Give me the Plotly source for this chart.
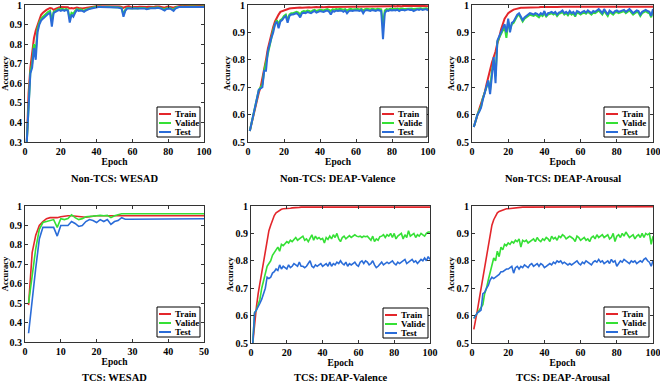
import plotly.graph_objects as go

# ---------------- data ----------------
titles = ["Non-TCS: WESAD", "Non-TCS: DEAP-Valence", "Non-TCS: DEAP-Arousal",
          "TCS: WESAD", "TCS: DEAP-Valence", "TCS: DEAP-Arousal"]
series_names = ["Train", "Valide", "Test"]

epochs100 = list(range(1, 101))
epochs50 = list(range(1, 51))

tr1 = [0.30, 0.55, 0.68, 0.76, 0.83, 0.87, 0.90, 0.93, 0.95, 0.96,
       0.97, 0.975, 0.98, 0.985, 0.983, 0.975, 0.98, 0.985, 0.988, 0.99,
       0.99, 0.99, 0.99, 0.988, 0.982, 0.985, 0.982, 0.984, 0.987, 0.985,
       0.983, 0.982, 0.984, 0.986, 0.988, 0.987, 0.99, 0.992, 0.993, 0.994,
       0.994, 0.995, 0.994, 0.995, 0.994, 0.993, 0.994, 0.995, 0.994, 0.993,
       0.994, 0.993, 0.992, 0.99, 0.985, 0.99, 0.992, 0.993, 0.99, 0.988,
       0.99, 0.989, 0.99, 0.991, 0.99, 0.99, 0.989, 0.99, 0.991, 0.99,
       0.991, 0.99, 0.992, 0.993, 0.992, 0.99, 0.988, 0.986, 0.99, 0.992,
       0.99, 0.988, 0.986, 0.99, 0.993, 0.994, 0.995, 0.995, 0.995, 0.995,
       0.995, 0.995, 0.996, 0.995, 0.995, 0.996, 0.995, 0.995, 0.996, 0.995]
va1 = [0.30, 0.52, 0.66, 0.70, 0.80, 0.76, 0.88, 0.91, 0.93, 0.94,
       0.95, 0.96, 0.965, 0.97, 0.92, 0.965, 0.97, 0.975, 0.98, 0.978,
       0.98, 0.975, 0.98, 0.975, 0.93, 0.96, 0.955, 0.97, 0.98, 0.975,
       0.978, 0.975, 0.97, 0.978, 0.98, 0.982, 0.985, 0.988, 0.99, 0.992,
       0.99, 0.992, 0.99, 0.991, 0.99, 0.99, 0.991, 0.99, 0.99, 0.99,
       0.99, 0.988, 0.987, 0.985, 0.95, 0.975, 0.985, 0.985, 0.983, 0.982,
       0.984, 0.983, 0.982, 0.985, 0.984, 0.983, 0.985, 0.98, 0.984, 0.985,
       0.986, 0.985, 0.986, 0.988, 0.986, 0.985, 0.98, 0.978, 0.984, 0.986,
       0.985, 0.98, 0.978, 0.985, 0.99, 0.99, 0.992, 0.992, 0.991, 0.992,
       0.992, 0.991, 0.992, 0.992, 0.991, 0.992, 0.992, 0.991, 0.992, 0.992]
te1 = [0.30, 0.50, 0.65, 0.68, 0.78, 0.72, 0.86, 0.90, 0.92, 0.93,
       0.94, 0.95, 0.955, 0.96, 0.89, 0.96, 0.965, 0.97, 0.975, 0.97,
       0.975, 0.97, 0.975, 0.97, 0.91, 0.95, 0.94, 0.96, 0.975, 0.97,
       0.972, 0.97, 0.965, 0.972, 0.978, 0.98, 0.982, 0.985, 0.988, 0.99,
       0.99, 0.99, 0.99, 0.99, 0.99, 0.99, 0.99, 0.99, 0.99, 0.99,
       0.99, 0.987, 0.985, 0.982, 0.94, 0.97, 0.982, 0.982, 0.98, 0.98,
       0.982, 0.98, 0.98, 0.982, 0.982, 0.98, 0.982, 0.978, 0.982, 0.983,
       0.984, 0.983, 0.984, 0.986, 0.984, 0.982, 0.976, 0.972, 0.98, 0.983,
       0.982, 0.976, 0.97, 0.982, 0.988, 0.99, 0.99, 0.99, 0.99, 0.99,
       0.99, 0.99, 0.99, 0.99, 0.99, 0.99, 0.99, 0.99, 0.99, 0.99]

tr2 = [0.54, 0.57, 0.60, 0.62, 0.65, 0.68, 0.70, 0.73, 0.76, 0.80,
       0.84, 0.87, 0.89, 0.92, 0.94, 0.955, 0.965, 0.975, 0.978, 0.98,
       0.983, 0.985, 0.987, 0.988, 0.989, 0.99, 0.99, 0.99, 0.991, 0.99,
       0.991, 0.991, 0.992, 0.992, 0.991, 0.992, 0.992, 0.993, 0.992, 0.993,
       0.993, 0.992, 0.993, 0.993, 0.994, 0.993, 0.993, 0.994, 0.993, 0.994,
       0.994, 0.993, 0.994, 0.994, 0.993, 0.994, 0.994, 0.995, 0.994, 0.994,
       0.995, 0.994, 0.994, 0.995, 0.994, 0.995, 0.995, 0.994, 0.995, 0.995,
       0.995, 0.994, 0.995, 0.995, 0.995, 0.994, 0.995, 0.995, 0.995, 0.996,
       0.995, 0.995, 0.996, 0.995, 0.995, 0.996, 0.995, 0.996, 0.996, 0.995,
       0.996, 0.996, 0.995, 0.996, 0.996, 0.995, 0.996, 0.996, 0.996, 0.995]
va2 = [0.54, 0.57, 0.61, 0.63, 0.66, 0.69, 0.70, 0.71, 0.76, 0.79,
       0.83, 0.86, 0.88, 0.91, 0.93, 0.945, 0.93, 0.945, 0.95, 0.96,
       0.965, 0.945, 0.965, 0.97, 0.97, 0.972, 0.975, 0.972, 0.965, 0.975,
       0.978, 0.976, 0.98, 0.978, 0.975, 0.98, 0.982, 0.978, 0.98, 0.983,
       0.982, 0.98, 0.983, 0.985, 0.982, 0.978, 0.984, 0.983, 0.985, 0.984,
       0.986, 0.985, 0.983, 0.985, 0.98, 0.984, 0.986, 0.984, 0.985, 0.986,
       0.985, 0.984, 0.986, 0.98, 0.985, 0.986, 0.985, 0.984, 0.986, 0.985,
       0.984, 0.986, 0.985, 0.984, 0.93, 0.98, 0.985, 0.984, 0.986, 0.985,
       0.986, 0.985, 0.987, 0.985, 0.986, 0.987, 0.985, 0.986, 0.987, 0.986,
       0.987, 0.985, 0.986, 0.987, 0.986, 0.988, 0.986, 0.987, 0.988, 0.985]
te2 = [0.54, 0.565, 0.60, 0.63, 0.66, 0.69, 0.695, 0.70, 0.76, 0.76,
       0.83, 0.86, 0.88, 0.90, 0.93, 0.94, 0.915, 0.94, 0.945, 0.955,
       0.96, 0.935, 0.96, 0.965, 0.965, 0.968, 0.97, 0.965, 0.955, 0.97,
       0.972, 0.97, 0.975, 0.972, 0.97, 0.975, 0.978, 0.972, 0.975, 0.978,
       0.976, 0.975, 0.978, 0.98, 0.976, 0.965, 0.978, 0.976, 0.98, 0.978,
       0.98, 0.979, 0.975, 0.98, 0.97, 0.978, 0.98, 0.978, 0.98, 0.981,
       0.98, 0.978, 0.982, 0.97, 0.98, 0.982, 0.98, 0.978, 0.982, 0.98,
       0.978, 0.982, 0.98, 0.978, 0.875, 0.97, 0.98, 0.978, 0.982, 0.98,
       0.982, 0.98, 0.983, 0.978, 0.982, 0.983, 0.98, 0.982, 0.984, 0.982,
       0.983, 0.978, 0.982, 0.984, 0.982, 0.985, 0.982, 0.983, 0.985, 0.98]

tr3 = [0.555, 0.58, 0.60, 0.62, 0.64, 0.66, 0.68, 0.71, 0.74, 0.76,
       0.79, 0.81, 0.83, 0.86, 0.88, 0.91, 0.93, 0.95, 0.96, 0.97,
       0.975, 0.98, 0.983, 0.985, 0.987, 0.988, 0.99, 0.99, 0.99, 0.991,
       0.991, 0.99, 0.991, 0.992, 0.991, 0.992, 0.992, 0.993, 0.992, 0.993,
       0.993, 0.992, 0.993, 0.993, 0.994, 0.993, 0.993, 0.994, 0.993, 0.994,
       0.994, 0.993, 0.994, 0.994, 0.993, 0.994, 0.994, 0.995, 0.994, 0.994,
       0.994, 0.995, 0.994, 0.995, 0.995, 0.994, 0.995, 0.995, 0.994, 0.995,
       0.995, 0.995, 0.994, 0.995, 0.995, 0.995, 0.994, 0.995, 0.995, 0.995,
       0.995, 0.994, 0.995, 0.995, 0.995, 0.995, 0.994, 0.995, 0.995, 0.995,
       0.995, 0.994, 0.995, 0.995, 0.995, 0.994, 0.995, 0.995, 0.994, 0.994]
va3 = [0.555, 0.58, 0.60, 0.615, 0.63, 0.66, 0.685, 0.70, 0.72, 0.69,
       0.76, 0.80, 0.74, 0.865, 0.88, 0.895, 0.91, 0.92, 0.88, 0.94,
       0.91, 0.93, 0.935, 0.95, 0.96, 0.965, 0.95, 0.94, 0.95, 0.955,
       0.96, 0.965, 0.962, 0.96, 0.965, 0.96, 0.955, 0.965, 0.96, 0.97,
       0.958, 0.965, 0.968, 0.97, 0.965, 0.97, 0.96, 0.968, 0.97, 0.975,
       0.965, 0.97, 0.962, 0.972, 0.965, 0.97, 0.958, 0.972, 0.97, 0.965,
       0.97, 0.972, 0.968, 0.975, 0.97, 0.965, 0.972, 0.97, 0.975, 0.98,
       0.972, 0.965, 0.978, 0.97, 0.96, 0.975, 0.97, 0.965, 0.972, 0.975,
       0.97, 0.972, 0.975, 0.978, 0.97, 0.975, 0.98, 0.972, 0.965, 0.97,
       0.975, 0.972, 0.96, 0.97, 0.975, 0.978, 0.972, 0.97, 0.955, 0.98]
te3 = [0.555, 0.58, 0.60, 0.61, 0.625, 0.655, 0.68, 0.70, 0.725, 0.675,
       0.75, 0.81, 0.715, 0.87, 0.885, 0.90, 0.915, 0.93, 0.90, 0.95,
       0.90, 0.935, 0.94, 0.955, 0.965, 0.97, 0.955, 0.945, 0.955, 0.96,
       0.965, 0.97, 0.968, 0.965, 0.97, 0.968, 0.962, 0.97, 0.965, 0.978,
       0.96, 0.97, 0.972, 0.975, 0.97, 0.975, 0.965, 0.972, 0.975, 0.98,
       0.97, 0.975, 0.968, 0.978, 0.97, 0.975, 0.965, 0.978, 0.975, 0.97,
       0.975, 0.978, 0.972, 0.98, 0.975, 0.97, 0.978, 0.975, 0.98, 0.985,
       0.978, 0.97, 0.985, 0.975, 0.965, 0.98, 0.975, 0.97, 0.978, 0.98,
       0.975, 0.978, 0.98, 0.982, 0.975, 0.98, 0.985, 0.978, 0.97, 0.975,
       0.98, 0.978, 0.965, 0.975, 0.98, 0.982, 0.978, 0.975, 0.96, 0.985]

tr4 = [0.49, 0.76, 0.85, 0.90, 0.92, 0.935, 0.94, 0.94, 0.94, 0.945,
       0.948, 0.95, 0.95, 0.948, 0.945, 0.945, 0.942, 0.945, 0.948, 0.95,
       0.95, 0.95, 0.95, 0.95, 0.95, 0.95, 0.95, 0.95, 0.95, 0.95,
       0.95, 0.95, 0.95, 0.95, 0.95, 0.95, 0.95, 0.95, 0.95, 0.95,
       0.95, 0.95, 0.95, 0.95, 0.95, 0.95, 0.95, 0.95, 0.95, 0.95]
va4 = [0.50, 0.65, 0.78, 0.88, 0.915, 0.92, 0.925, 0.93, 0.89, 0.935,
       0.93, 0.935, 0.955, 0.94, 0.93, 0.935, 0.945, 0.948, 0.948, 0.95,
       0.952, 0.95, 0.952, 0.94, 0.95, 0.955, 0.96, 0.96, 0.96, 0.96,
       0.96, 0.96, 0.96, 0.96, 0.96, 0.96, 0.96, 0.96, 0.96, 0.96,
       0.96, 0.96, 0.96, 0.96, 0.96, 0.96, 0.96, 0.96, 0.96, 0.96]
te4 = [0.345, 0.52, 0.68, 0.83, 0.89, 0.89, 0.89, 0.89, 0.845, 0.90,
       0.90, 0.90, 0.92, 0.91, 0.895, 0.90, 0.92, 0.93, 0.925, 0.915,
       0.93, 0.92, 0.93, 0.905, 0.92, 0.925, 0.94, 0.932, 0.932, 0.932,
       0.932, 0.932, 0.932, 0.932, 0.932, 0.932, 0.932, 0.932, 0.933, 0.933,
       0.933, 0.933, 0.933, 0.933, 0.934, 0.934, 0.934, 0.934, 0.934, 0.934]

tr5 = [0.50, 0.57, 0.63, 0.68, 0.72, 0.76, 0.80, 0.84, 0.88, 0.91,
       0.93, 0.95, 0.965, 0.975, 0.98, 0.985, 0.988, 0.99, 0.99, 0.99,
       0.991, 0.992, 0.993, 0.993, 0.994, 0.995, 0.995, 0.996, 0.996, 0.997,
       0.997, 0.997, 0.997, 0.996, 0.997, 0.997, 0.998, 0.997, 0.997, 0.997,
       0.997, 0.998, 0.997, 0.997, 0.998, 0.997, 0.997, 0.998, 0.997, 0.997,
       0.998, 0.997, 0.997, 0.998, 0.998, 0.997, 0.997, 0.998, 0.997, 0.996,
       0.997, 0.998, 0.997, 0.997, 0.998, 0.997, 0.996, 0.997, 0.997, 0.998,
       0.997, 0.997, 0.998, 0.997, 0.997, 0.998, 0.997, 0.997, 0.998, 0.997,
       0.997, 0.998, 0.997, 0.997, 0.998, 0.997, 0.997, 0.998, 0.997, 0.997,
       0.998, 0.997, 0.997, 0.998, 0.997, 0.997, 0.998, 0.997, 0.997, 0.996]
va5 = [0.50, 0.61, 0.62, 0.64, 0.66, 0.70, 0.73, 0.75, 0.78, 0.79,
       0.80, 0.82, 0.83, 0.845, 0.85, 0.835, 0.86, 0.855, 0.865, 0.87,
       0.865, 0.875, 0.87, 0.88, 0.885, 0.875, 0.88, 0.885, 0.89, 0.875,
       0.88, 0.87, 0.885, 0.895, 0.875, 0.89, 0.88, 0.885, 0.878, 0.882,
       0.865, 0.885, 0.878, 0.89, 0.88, 0.895, 0.885, 0.90, 0.88, 0.87,
       0.885, 0.89, 0.88, 0.885, 0.892, 0.885, 0.89, 0.895, 0.89, 0.888,
       0.89, 0.885, 0.89, 0.888, 0.89, 0.882, 0.875, 0.89, 0.87, 0.88,
       0.875, 0.888, 0.89, 0.895, 0.885, 0.895, 0.89, 0.90, 0.885, 0.90,
       0.88, 0.89, 0.895, 0.90, 0.88, 0.895, 0.885, 0.91, 0.89, 0.895,
       0.90, 0.885, 0.895, 0.89, 0.90, 0.895, 0.89, 0.90, 0.905, 0.905]
te5 = [0.50, 0.61, 0.62, 0.63, 0.645, 0.66, 0.68, 0.70, 0.74, 0.735,
       0.74, 0.755, 0.76, 0.77, 0.765, 0.785, 0.77, 0.78, 0.775, 0.77,
       0.785, 0.775, 0.78, 0.79, 0.785, 0.78, 0.795, 0.78, 0.78, 0.775,
       0.78, 0.79, 0.80, 0.78, 0.775, 0.785, 0.78, 0.785, 0.79, 0.78,
       0.785, 0.79, 0.78, 0.795, 0.78, 0.79, 0.785, 0.795, 0.79, 0.80,
       0.79, 0.785, 0.795, 0.78, 0.79, 0.785, 0.79, 0.795, 0.785, 0.78,
       0.795, 0.80, 0.79, 0.80, 0.795, 0.785, 0.79, 0.80, 0.785, 0.775,
       0.78, 0.79, 0.795, 0.785, 0.79, 0.795, 0.79, 0.795, 0.80, 0.79,
       0.785, 0.795, 0.79, 0.795, 0.80, 0.805, 0.79, 0.795, 0.80, 0.805,
       0.795, 0.80, 0.79, 0.80, 0.805, 0.80, 0.81, 0.80, 0.815, 0.805]

tr6 = [0.55, 0.58, 0.62, 0.66, 0.70, 0.74, 0.78, 0.82, 0.86, 0.90,
       0.93, 0.95, 0.965, 0.975, 0.98, 0.983, 0.985, 0.988, 0.99, 0.99,
       0.991, 0.992, 0.993, 0.993, 0.994, 0.995, 0.995, 0.996, 0.996, 0.996,
       0.997, 0.996, 0.997, 0.997, 0.996, 0.997, 0.997, 0.998, 0.997, 0.997,
       0.997, 0.998, 0.997, 0.997, 0.998, 0.997, 0.997, 0.998, 0.997, 0.997,
       0.998, 0.997, 0.997, 0.998, 0.997, 0.997, 0.996, 0.997, 0.997, 0.998,
       0.997, 0.997, 0.998, 0.997, 0.997, 0.998, 0.997, 0.997, 0.998, 0.997,
       0.997, 0.998, 0.997, 0.997, 0.998, 0.997, 0.997, 0.998, 0.997, 0.997,
       0.998, 0.997, 0.997, 0.998, 0.997, 0.997, 0.998, 0.997, 0.997, 0.998,
       0.997, 0.997, 0.998, 0.997, 0.997, 0.998, 0.997, 0.997, 0.997, 0.997]
va6 = [0.59, 0.60, 0.61, 0.62, 0.63, 0.64, 0.68, 0.70, 0.73, 0.76,
       0.79, 0.81, 0.80, 0.835, 0.815, 0.85, 0.84, 0.86, 0.855, 0.865,
       0.86, 0.87, 0.865, 0.875, 0.87, 0.88, 0.85, 0.875, 0.87, 0.875,
       0.865, 0.87, 0.875, 0.88, 0.87, 0.885, 0.875, 0.87, 0.88, 0.875,
       0.885, 0.88, 0.87, 0.89, 0.88, 0.885, 0.875, 0.89, 0.885, 0.895,
       0.89, 0.88, 0.885, 0.89, 0.885, 0.88, 0.87, 0.89, 0.885, 0.875,
       0.88, 0.885, 0.875, 0.88, 0.87, 0.885, 0.89, 0.88, 0.895, 0.885,
       0.89, 0.895, 0.885, 0.89, 0.895, 0.88, 0.885, 0.90, 0.87, 0.89,
       0.895, 0.885, 0.90, 0.89, 0.905, 0.895, 0.885, 0.89, 0.895, 0.88,
       0.89, 0.895, 0.885, 0.90, 0.885, 0.90, 0.895, 0.90, 0.86, 0.89]
te6 = [0.59, 0.60, 0.61, 0.615, 0.62, 0.68, 0.685, 0.70, 0.71, 0.73,
       0.74, 0.735, 0.74, 0.745, 0.75, 0.76, 0.76, 0.765, 0.77, 0.77,
       0.775, 0.78, 0.755, 0.775, 0.78, 0.77, 0.78, 0.775, 0.785, 0.78,
       0.775, 0.785, 0.79, 0.78, 0.785, 0.79, 0.78, 0.79, 0.785, 0.775,
       0.78, 0.785, 0.79, 0.785, 0.795, 0.79, 0.80, 0.795, 0.80, 0.79,
       0.795, 0.79, 0.785, 0.79, 0.785, 0.79, 0.795, 0.80, 0.79, 0.785,
       0.795, 0.79, 0.80, 0.795, 0.79, 0.785, 0.795, 0.80, 0.795, 0.805,
       0.795, 0.80, 0.79, 0.795, 0.80, 0.79, 0.805, 0.795, 0.80, 0.78,
       0.79, 0.80, 0.795, 0.805, 0.80, 0.795, 0.79, 0.80, 0.795, 0.80,
       0.79, 0.795, 0.80, 0.795, 0.805, 0.81, 0.80, 0.795, 0.78, 0.80]

panels = [
    (epochs100, tr1, va1, te1),
    (epochs100, tr2, va2, te2),
    (epochs100, tr3, va3, te3),
    (epochs50, tr4, va4, te4),
    (epochs100, tr5, va5, te5),
    (epochs100, tr6, va6, te6),
]
y_ranges = [(0.3, 1), (0.5, 1), (0.5, 1), (0.3, 1), (0.5, 1), (0.5, 1)]
x_max = [100, 100, 100, 50, 100, 100]
y_ticks = [[0.3, 0.4, 0.5, 0.6, 0.7, 0.8, 0.9, 1],
           [0.5, 0.6, 0.7, 0.8, 0.9, 1],
           [0.5, 0.6, 0.7, 0.8, 0.9, 1],
           [0.3, 0.4, 0.5, 0.6, 0.7, 0.8, 0.9, 1],
           [0.5, 0.6, 0.7, 0.8, 0.9, 1],
           [0.5, 0.6, 0.7, 0.8, 0.9, 1]]
x_ticks = [[0, 20, 40, 60, 80, 100], [0, 20, 40, 60, 80, 100], [0, 20, 40, 60, 80, 100],
           [0, 10, 20, 30, 40, 50], [0, 20, 40, 60, 80, 100], [0, 20, 40, 60, 80, 100]]

# ---------------- layout ----------------
W, H = 660, 383
# plot-area pixel boxes (left, right, top, bottom)
boxes = [(25, 204, 5, 142), (248, 428, 5, 142), (472, 653, 5, 142),
         (25, 204, 206, 342), (251, 430, 206, 343), (472, 653, 206, 343)]
# legend pixel boxes (left, right, top, bottom)
leg_boxes = [(157, 200, 107, 137), (380, 427, 107, 137), (604, 649, 107, 137),
             (157, 200, 307, 337), (383, 428, 308, 338), (604, 649, 307, 337)]
colors = ["#e3262b", "#35e035", "#2a6cd8"]
FONT = "Liberation Serif"


def px(x):
    return x / W


def py(y):
    return 1 - y / H


fig = go.Figure()
layout = dict(width=W, height=H, margin=dict(l=0, r=0, t=0, b=0, autoexpand=False),
              plot_bgcolor="white", paper_bgcolor="white", showlegend=False)
annotations = []
shapes = []

for i, (ep, tr, va, te) in enumerate(panels):
    n = i + 1
    xa = "x" if n == 1 else f"x{n}"
    ya = "y" if n == 1 else f"y{n}"
    lw = 2 if i < 3 else 1.6
    for name, vals, c in zip(series_names, (tr, va, te), colors):
        fig.add_trace(go.Scatter(x=ep, y=vals, mode="lines", name=name,
                                 line=dict(color=c, width=lw),
                                 xaxis=xa, yaxis=ya, showlegend=False))
    l, r, t, b = boxes[i]
    axis_common = dict(showline=True, linecolor="#333333", linewidth=1, mirror="ticks",
                       ticks="inside", ticklen=3, tickcolor="#333333", showgrid=False,
                       zeroline=False, automargin=False, ticklabeloverflow="allow",
                       tickfont=dict(family=FONT, size=10, color="black", weight="bold"))
    xkey = "xaxis" if n == 1 else f"xaxis{n}"
    ykey = "yaxis" if n == 1 else f"yaxis{n}"
    layout[xkey] = dict(axis_common, domain=[px(l), px(r)], anchor=ya,
                        range=[0, x_max[i]], tickvals=x_ticks[i],
                        title=dict(text="Epoch", standoff=1,
                                   font=dict(family=FONT, size=9.5, color="black", weight="bold")))
    layout[ykey] = dict(axis_common, domain=[py(b), py(t)], anchor=xa,
                        range=list(y_ranges[i]), tickvals=y_ticks[i],
                        ticktext=[("1" if v == 1 else f"{v:.1f}") for v in y_ticks[i]],
                        title=dict(text="Accuracy", standoff=0,
                                   font=dict(family=FONT, size=8.5, color="black", weight="bold")))
    # legend (drawn as box, sample lines and labels)
    L0, L1, T0, B0 = leg_boxes[i]
    shapes.append(dict(type="rect", xref="paper", yref="paper",
                       x0=px(L0), x1=px(L1), y0=py(B0), y1=py(T0),
                       line=dict(color="black", width=1), fillcolor="white", layer="above"))
    for k, (name, c) in enumerate(zip(series_names, colors)):
        yy = T0 + 7 + 9 * k
        shapes.append(dict(type="line", xref="paper", yref="paper",
                           x0=px(L0 + 2), x1=px(L0 + 14), y0=py(yy), y1=py(yy),
                           line=dict(color=c, width=2), layer="above"))
        annotations.append(dict(text=name, x=px(L0 + 16), y=py(yy),
                                xref="paper", yref="paper", showarrow=False,
                                xanchor="left", yanchor="middle",
                                font=dict(family=FONT, size=9, color="black", weight="bold")))
    ty = 178 if i < 3 else 377
    annotations.append(dict(text=titles[i], x=px((l + r) / 2), y=py(ty),
                            xref="paper", yref="paper", showarrow=False,
                            xanchor="center", yanchor="middle",
                            font=dict(family=FONT, size=10.5, color="black", weight="bold")))

layout["annotations"] = annotations
layout["shapes"] = shapes
fig.update_layout(**layout)
fig.write_html("out.html", config={"displayModeBar": False},
               post_script="document.body.style.margin='0px';")
